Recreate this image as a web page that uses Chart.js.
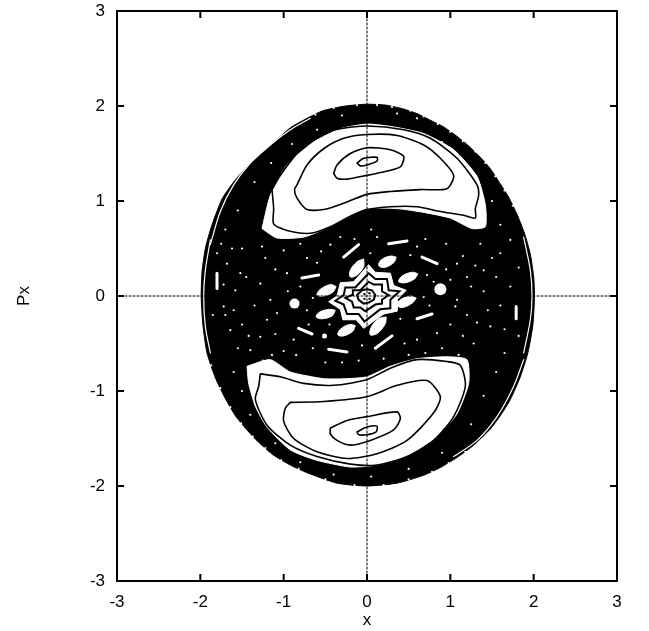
<!DOCTYPE html>
<html>
<head>
<meta charset="utf-8">
<title>Px vs x</title>
<script src="https://cdn.jsdelivr.net/npm/chart.js@4"></script>
<style>
  html, body { margin: 0; padding: 0; background: #fff; }
  canvas { display: block; }
</style>
</head>
<body>
<canvas id="chart" width="649" height="631"></canvas>
<script>
// Surface of section, all values are [x, Px]
var xTicks = [-3, -2, -1, 0, 1, 2, 3];
var yTicks = [-3, -2, -1, 0, 1, 2, 3];

var seaEdge = [[0,2.02],[.22,2.01],[.43,1.97],[.6,1.92],[.76,1.85],[.92,1.78],[1.08,1.68],[1.22,1.58],[1.36,1.46],[1.48,1.34],[1.6,1.18],[1.7,1.04],[1.8,.86],[1.89,.66],[1.96,.44],[2,.2],[2.01,0],[1.99,-.31],[1.93,-.6],[1.84,-.85],[1.72,-1.09],[1.6,-1.26],[1.48,-1.4],[1.28,-1.57],[1.08,-1.7],[.87,-1.81],[.67,-1.89],[.36,-1.97],[0,-2],[-.36,-1.97],[-.72,-1.86],[-.92,-1.78],[-1.13,-1.67],[-1.3,-1.54],[-1.44,-1.41],[-1.58,-1.26],[-1.7,-1.08],[-1.82,-.86],[-1.92,-.6],[-1.97,-.3],[-1.99,0],[-1.98,.25],[-1.94,.5],[-1.86,.75],[-1.74,1.02],[-1.6,1.2],[-1.44,1.36],[-1.2,1.55],[-.92,1.77],[-.72,1.87],[-.53,1.95],[-.26,2],[0,2.02]];

// thin white gaps near the rim of the sea
var gapUpperLeft = [[-1.88,.54],[-1.76,.89],[-1.6,1.17],[-1.4,1.4],[-1.16,1.59],[-.92,1.75],[-.68,1.87]];
var gapLeft = [[-1.88,.59],[-1.94,.27],[-1.96,0],[-1.94,-.32],[-1.88,-.6]];
var gapRight = [[1.88,.62],[1.96,.27],[1.98,0],[1.96,-.25],[1.88,-.6]];
var gapLowerRight = [[1.88,-.67],[1.76,-.95],[1.56,-1.27],[1.32,-1.52],[1.04,-1.69]];

// small bites out of the rim, the edge of the sea is grainy
var rimNotches = [[.12,2.01],[.3,1.99],[.52,1.95],[.68,1.89],[.85,1.81],[1,1.73],[1.15,1.63],[1.3,1.52],[1.42,1.4],[1.54,1.26],[1.65,1.11],[1.75,.95],[-.12,2.01],[-.4,1.98],[-.62,1.91],[.2,-1.99],[.5,-1.93],[.78,-1.85],[.98,-1.76],[1.18,-1.64],[-.15,-1.99],[-.5,-1.93],[-.82,-1.82],[-1.03,-1.73],[-1.22,-1.6],[-1.37,-1.48],[-1.51,-1.34],[-1.64,-1.17],[-1.76,-.97],[-1.87,-.73]];

// upper island
var upperWhite = [[-1.26,.71],[-1.16,1.06],[-.96,1.38],[-.64,1.62],[-.32,1.76],[0,1.81],[.32,1.78],[.68,1.71],[1.04,1.54],[1.32,1.26],[1.42,.96],[1.42,.73],[1.26,.71],[1,.82],[.68,.88],[.36,.92],[0,.92],[-.2,.85],[-.44,.73],[-.76,.62],[-1.08,.61],[-1.26,.71]];
var upperA = [[-1.14,1.12],[-1.04,1.27],[-.8,1.54],[-.52,1.71],[-.32,1.76],[0,1.79],[.44,1.75],[.76,1.66],[1.08,1.45],[1.32,1.17],[1.34,1.06],[1.3,.92],[1.3,.82],[1.16,.85],[.88,.89],[.6,.94],[.28,.94],[0,.91],[-.2,.84],[-.44,.73],[-.68,.66],[-.96,.69],[-1.12,.76],[-1.12,.92],[-1.14,1.12]];
var upperB = [[-.84,1.17],[-.72,1.38],[-.52,1.55],[-.28,1.66],[0,1.7],[.36,1.69],[.68,1.59],[.88,1.45],[1.04,1.27],[.96,1.13],[.64,1.12],[.28,1.1],[0,1.07],[-.24,.99],[-.52,.91],[-.72,.91],[-.84,1.03],[-.87,1.12],[-.84,1.17]];
var upperC = [[-.4,1.29],[-.36,1.38],[-.2,1.5],[0,1.56],[.28,1.54],[.44,1.47],[.4,1.36],[.16,1.3],[0,1.27],[-.24,1.23],[-.36,1.24],[-.4,1.29]];
var upperD = [[-.12,1.4],[-.04,1.45],[.12,1.46],[.12,1.42],[0,1.38],[-.08,1.37],[-.12,1.4]];

// lower island
var lowerWhite = [[-1.44,-.74],[-1.16,-.67],[-.92,-.8],[-.52,-.87],[-.24,-.87],[0,-.85],[.28,-.74],[.6,-.66],[.96,-.64],[1.2,-.67],[1.22,-.92],[1.08,-1.24],[.84,-1.48],[.48,-1.69],[.12,-1.78],[-.2,-1.8],[-.6,-1.73],[-.92,-1.62],[-1.2,-1.38],[-1.34,-1.16],[-1.42,-.92],[-1.44,-.74]];
var lowerA = [[-1.28,-.82],[-1.04,-.85],[-.76,-.92],[-.4,-.94],[0,-.88],[.28,-.76],[.6,-.67],[.96,-.69],[1.12,-.73],[1.18,-.95],[1.04,-1.27],[.8,-1.52],[.48,-1.69],[.12,-1.78],[-.2,-1.77],[-.6,-1.69],[-.92,-1.57],[-1.2,-1.36],[-1.34,-1.09],[-1.3,-.95],[-1.28,-.82]];
var lowerB = [[-.92,-1.12],[-.52,-1.11],[0,-1.06],[.36,-.94],[.72,-.89],[.88,-1.06],[.8,-1.23],[.48,-1.52],[.12,-1.66],[-.24,-1.71],[-.6,-1.64],[-.88,-1.5],[-1,-1.32],[-.98,-1.18],[-.92,-1.12]];
var lowerC = [[-.44,-1.39],[-.24,-1.31],[0,-1.27],[.36,-1.22],[.4,-1.29],[.32,-1.41],[.04,-1.52],[-.2,-1.57],[-.36,-1.52],[-.44,-1.45],[-.44,-1.39]];
var lowerD = [[-.12,-1.43],[0,-1.38],[.12,-1.37],[.11,-1.43],[0,-1.46],[-.1,-1.46],[-.12,-1.43]];

// ring of small islands round the centre
var isle1 = [[-.04,.39],[-.04,.31],[-.12,.22],[-.2,.2],[-.2,.27],[-.12,.36],[-.04,.39]];
var isle2 = [[.35,.41],[.32,.35],[.21,.3],[.14,.32],[.17,.38],[.28,.42],[.35,.41]];
var isle3 = [[.61,.235],[.57,.18],[.46,.14],[.38,.15],[.42,.21],[.54,.25],[.61,.235]];
var isle4 = [[.59,-.02],[.55,-.07],[.43,-.12],[.36,-.1],[.4,-.04],[.52,0],[.59,-.02]];
var isle5 = [[.23,-.22],[.22,-.29],[.13,-.39],[.04,-.41],[.05,-.33],[.14,-.24],[.23,-.22]];
var isle6 = [[-.14,-.31],[-.17,-.37],[-.28,-.42],[-.35,-.41],[-.32,-.35],[-.21,-.3],[-.14,-.31]];
var isle7 = [[-.38,-.15],[-.42,-.21],[-.54,-.24],[-.61,-.22],[-.57,-.17],[-.45,-.14],[-.38,-.15]];
var isle8 = [[-.37,.1],[-.41,.04],[-.52,0],[-.6,.01],[-.56,.07],[-.44,.12],[-.37,.1]];

// centre star
var starWhite = [[.02,.33],[.1,.25],[.28,.24],[.32,.11],[.47,.06],[.36,-.04],[.36,-.16],[.2,-.19],[-.04,-.34],[-.13,-.25],[-.29,-.25],[-.32,-.14],[-.46,-.06],[-.36,0],[-.32,.14],[-.16,.15],[.02,.33]];
var starRing3 = [[.02,.24],[.1,.18],[.24,.18],[.26,.06],[.39,.05],[.28,-.04],[.28,-.13],[.16,-.14],[-.03,-.27],[-.1,-.19],[-.24,-.19],[-.28,-.09],[-.38,-.05],[-.28,.01],[-.26,.09],[-.14,.09],[.02,.24]];
var starRing2 = [[.02,.15],[.08,.12],[.18,.12],[.18,.05],[.26,.01],[.18,-.04],[.18,-.08],[.1,-.09],[-.02,-.16],[-.08,-.12],[-.16,-.12],[-.18,-.06],[-.26,-.02],[-.18,.01],[-.17,.06],[-.08,.06],[.02,.15]];
var starRing1 = [[0,.07],[.06,.06],[.1,.01],[.08,-.04],[.02,-.07],[-.04,-.08],[-.1,-.04],[-.12,.01],[-.06,.06],[0,.07]];
var starCore = [[.03,.03],[-.03,.02],[.03,-.03],[-.03,-.03]];

// streaks of white in the sea
var streaks = [
  [[-1.8,.24],[-1.8,.08]],
  [[1.79,-.11],[1.79,-.24]],
  [[.26,.55],[.48,.58]],
  [[-.28,.41],[-.1,.54]],
  [[-.78,.19],[-.58,.22]],
  [[.66,.41],[.84,.34]],
  [[.6,-.24],[.78,-.19]],
  [[-.82,-.34],[-.66,-.4]],
  [[.1,-.55],[.3,-.42]],
  [[-.46,-.56],[-.24,-.59]]
];
var blobs = [[.88,.07],[-.87,-.08],[-.51,-.42]];
var blobSizes = [6, 5, 2.5];

var specks = [[-1.68,.34],[-1.52,.24],[-1.26,.52],[-1,.48],[-.8,.55],[-.44,.54],[.04,.45],[.52,.43],[1.2,.2],[1.4,.05],[1.72,.1],[-1.72,-.11],[-1.58,.06],[-1.28,.13],[-.96,.24],[-1.16,-.04],[-.72,-.15],[-1.08,-.18],[.4,-.24],[1.08,-.04],[.68,-.01],[1.06,-.11],[1.48,-.32],[1.28,-.5],[-1.4,-.57],[-1.14,-.62],[-.06,-.52],[1.08,.34],[1.4,.27],[1.36,.55],[1,.17],[-1.64,-.36],[-1.28,-.43],[-.88,-.46],[.6,-.46],[.84,-.39],[1.6,.45],[1.72,.59],
  [.36,1.92],[.6,1.87],[.9,1.62],[1.2,1.35],[1.5,1],[1.6,.75],[-.3,1.9],[-.6,1.75],[-.9,1.6],[-1.15,1.4],[-1.35,1.2],[-1.55,.9],[-1.7,.7],[-1.75,.55],
  [-1.6,-.8],[-1.5,-1],[-1.4,-1.25],[-1.1,-1.55],[-.8,-1.75],[-.4,-1.88],[.05,-1.9],[.5,-1.82],[.9,-1.65],[1.25,-1.35],[1.4,-1.05],[1.55,-.8],[1.65,-.6],
  [-1.5,.5],[-1.45,.2],[-1.35,-.1],[-1.5,-.3],[-1.2,-.25],[-.95,.05],[-.65,-.02],[-.6,.35],[-.7,-.3],[-.45,-.3],[-.15,.6],[.12,.62],[.7,.6],[.95,.55],[1.15,.42],[1.25,.1],[1.55,.2],[1.6,-.1],[1.45,-.15],[1.2,-.2],[1,-.3],[.45,-.5],[.7,-.6],[.9,-.55],[1.1,-.62],[-.1,-.68],[-.5,-.7],[-.85,-.62],[-1.25,-.68],[-1.55,-.55],[-1.7,-.2],[.8,.15],[.75,-.1],[-.8,.1],
  [-1.62,.5],[-1.8,.45],[-1.72,.12],[-1.85,-.2],[-1.6,-.15],[-1.42,-.42],[-1.1,.28],[-1.22,.4],[-.72,.4],[-.55,.47],[-.32,.62],[.05,.7],[.6,.52],[.95,.28],[1.3,.32],[1.5,.4],[1.82,.3],[1.65,-.35],[1.82,-.42],[1.32,-.28],[1.15,-.42],[.95,-.66],[.5,-.62],[.2,-.66],[-.3,-.7],[-.65,-.55],[-1,-.58],[-1.42,-.75],[.72,.22],[-1.1,-.4]];

var axisV = [[0,-3],[0,3]];
var axisH = [[-3,0],[3,0]];

function pts(list) {
  return list.map(function(p) {
    return {x: p[0], y: p[1]};
  });
}

var datasets = [];

function addFill(list, color, tension) {
  datasets.push({
    data: pts(list), showLine: true, fill: 'shape', backgroundColor: color,
    borderColor: color, borderWidth: 1, pointRadius: 0, tension: tension || 0
  });
}

function addLine(list, color, width, tension, dash) {
  datasets.push({
    data: pts(list), showLine: true, fill: false, borderColor: color,
    borderWidth: width, pointRadius: 0, tension: tension || 0,
    borderCapStyle: 'round', borderDash: dash || []
  });
}

function addDots(list, color, radius) {
  datasets.push({
    data: pts(list), showLine: false, backgroundColor: color, borderWidth: 0,
    pointRadius: radius
  });
}

addFill(seaEdge, '#000', 0.2);
addDots(rimNotches, '#fff', 1.1);
[gapUpperLeft, gapLeft, gapRight, gapLowerRight].forEach(function(g) {
  addLine(g, '#fff', 1.2, 0.3);
});
addDots(blobs, '#fff', blobSizes);
streaks.forEach(function(s) {
  addLine(s, '#fff', 3);
});
addDots(specks, '#fff', 1.1);
addFill(upperWhite, '#fff', 0.2);
addFill(lowerWhite, '#fff', 0.2);
[upperA, upperB, upperC, upperD, lowerA, lowerB, lowerC, lowerD].forEach(function(c) {
  addLine(c, '#000', 1.6, 0.25);
});
[isle1, isle2, isle3, isle4, isle5, isle6, isle7, isle8].forEach(function(c) {
  addFill(c, '#fff', 0.35);
});
addFill(starWhite, '#fff');
[starRing3, starRing2, starRing1].forEach(function(c) {
  addLine(c, '#000', 2);
});
addDots(starCore, '#000', 1.2);
addLine(axisV, '#000', 1, 0, [2, 2]);
addLine(axisH, '#000', 1, 0, [2, 2]);

// chart.js draws the lowest order last, so later datasets go on top
datasets.forEach(function(d, i) {
  d.order = -i;
});

// gnuplot style frame with ticks pointing inwards on all four sides
var framePlugin = {
  id: 'frame',
  afterDraw: function(chart) {
    var c = chart.ctx, a = chart.chartArea;
    var sx = chart.scales.x, sy = chart.scales.y;
    var len = 7;
    c.save();
    c.strokeStyle = '#000';
    c.lineWidth = 2;
    c.beginPath();
    xTicks.forEach(function(v) {
      var px = sx.getPixelForValue(v);
      c.moveTo(px, a.top); c.lineTo(px, a.top + len);
      c.moveTo(px, a.bottom); c.lineTo(px, a.bottom - len);
    });
    yTicks.forEach(function(v) {
      var py = sy.getPixelForValue(v);
      c.moveTo(a.left, py); c.lineTo(a.left + len, py);
      c.moveTo(a.right, py); c.lineTo(a.right - len, py);
    });
    c.stroke();
    c.strokeRect(a.left, a.top, a.right - a.left, a.bottom - a.top);
    c.restore();
  }
};

var tickFont = {family: '"Liberation Sans", Arial, sans-serif', size: 17};

new Chart(document.getElementById('chart'), {
  type: 'scatter',
  data: {datasets: datasets},
  plugins: [framePlugin],
  options: {
    responsive: false,
    animation: false,
    layout: {padding: {top: 11, right: 32, left: 14, bottom: 0}},
    plugins: {legend: {display: false}, tooltip: {enabled: false}},
    scales: {
      x: {
        type: 'linear', min: -3, max: 3,
        afterFit: function(s) { s.height = 50; },
        grid: {display: false},
        border: {display: false},
        ticks: {stepSize: 1, color: '#000', font: tickFont, padding: 3, maxRotation: 0},
        title: {display: true, text: 'x', color: '#000', font: tickFont, padding: {top: 0, bottom: 0}}
      },
      y: {
        type: 'linear', min: -3, max: 3,
        // the top label may stick out over the padding, do not let it push the plot down
        afterFit: function(s) { s.width = 103; s.paddingTop = 0; s.paddingBottom = 0; },
        grid: {display: false},
        border: {display: false},
        ticks: {stepSize: 1, color: '#000', font: tickFont, padding: 4},
        title: {display: true, text: 'Px', color: '#000', font: tickFont, padding: 0}
      }
    }
  }
});
</script>
</body>
</html>
